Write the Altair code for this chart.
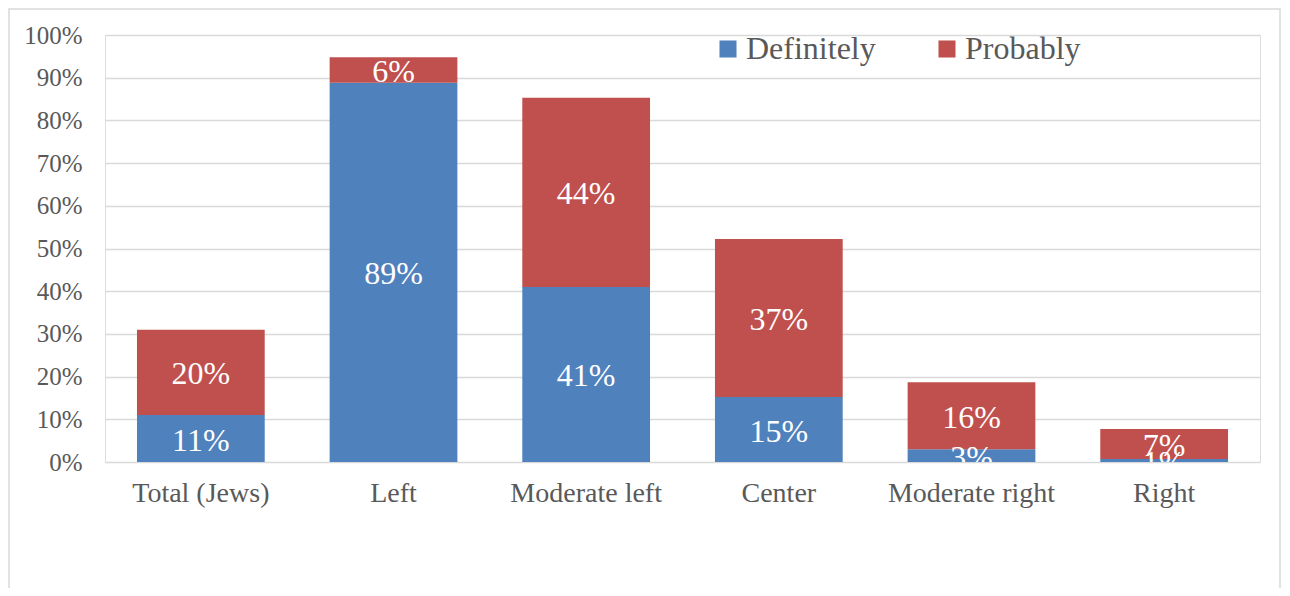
import altair as alt
import pandas as pd

categories = ["Total (Jews)", "Left", "Moderate left", "Center", "Moderate right", "Right"]
definitely = [0.11, 0.888, 0.41, 0.152, 0.03, 0.007]
probably = [0.20, 0.06, 0.443, 0.37, 0.157, 0.07]
series = ["Definitely", "Probably"]
colors = ["#4F81BD", "#C0504D"]

rows = []
for i, c in enumerate(categories):
    rows.append({"cat": c, "series": "Definitely", "value": definitely[i], "order": 0})
    rows.append({"cat": c, "series": "Probably", "value": probably[i], "order": 1})
df = pd.DataFrame(rows)

FONT = "Liberation Serif"
GRAY = "#595959"

base = alt.Chart(df).transform_stack(
    stack="value", as_=["v0", "v1"], groupby=["cat"], sort=[alt.SortField("order")]
).transform_calculate(mid="(datum.v0 + datum.v1) / 2")

x_enc = alt.X(
    "cat:N", sort=categories, title=None,
    scale=alt.Scale(paddingInner=0.337, paddingOuter=0.166),
    axis=alt.Axis(labelAngle=0, labelFont=FONT, labelFontSize=28, labelColor=GRAY,
                  ticks=False, domain=False, labelPadding=17, grid=False),
)

bars = base.mark_bar().encode(
    x=x_enc,
    y=alt.Y("v0:Q", title=None,
            scale=alt.Scale(domain=[0, 1], nice=False),
            axis=alt.Axis(format=".0%", values=[i / 10 for i in range(11)],
                          labelFont=FONT, labelFontSize=25, labelColor=GRAY,
                          ticks=False, domain=False, labelPadding=23,
                          grid=True, gridColor="#D9D9D9", gridWidth=1.5)),
    y2="v1:Q",
    color=alt.Color("series:N", sort=series,
                    scale=alt.Scale(domain=series, range=colors),
                    legend=alt.Legend(title=None, orient="none", direction="horizontal",
                                      legendX=607, legendY=-2, symbolType="square",
                                      symbolSize=290, symbolStrokeWidth=0,
                                      labelFont=FONT, labelFontSize=32, labelColor=GRAY,
                                      labelOffset=2, columnPadding=55, padding=0)),
)

labels = base.mark_text(font=FONT, fontSize=32, color="white", baseline="middle",
                        dy=2, clip=True).encode(
    x=alt.X("cat:N", sort=categories),
    y=alt.Y("mid:Q"),
    text=alt.Text("value:Q", format=".0%"),
)

border = alt.Chart(pd.DataFrame({"a": [0]})).mark_rect(
    fill=None, stroke="#D9D9D9", strokeWidth=1.5, clip=False
).encode(
    x=alt.value(-96), x2=alt.value(1175), y=alt.value(-26), y2=alt.value(700)
)

chart = alt.layer(border, bars, labels).properties(
    width=1155, height=427,
    autosize=alt.AutoSizeParams(type="none"),
    padding={"left": 97, "top": 27, "right": 22, "bottom": 126},
).configure_view(stroke=None).configure(background="white")

chart.save("out.html", embed_options={"renderer": "svg", "actions": False})
